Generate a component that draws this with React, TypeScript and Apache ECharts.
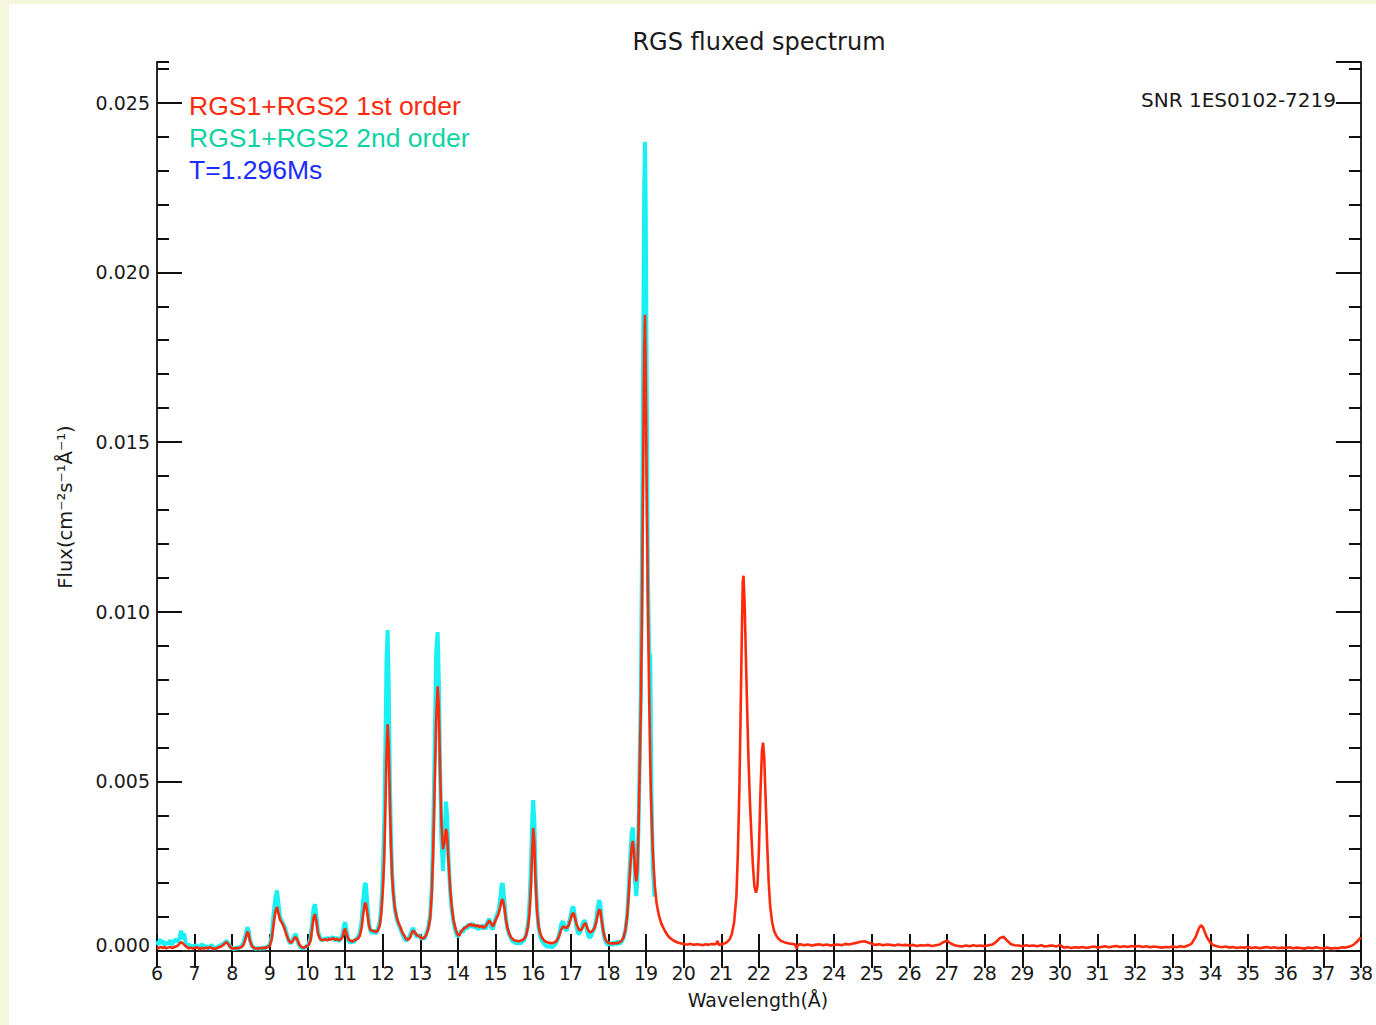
import React, { useEffect, useRef } from "react";
import * as echarts from "echarts";

// Wavelength (Å), flux (cm^-2 s^-1 Å^-1) — RGS1+RGS2 1st order
const firstOrder: number[][] = [
  [6.00, 0.00010], [6.05, 0.00008], [6.10, 0.00012], [6.15, 0.00009], [6.20, 0.00011], [6.25, 0.00008],
  [6.30, 0.00010], [6.35, 0.00012], [6.40, 0.00009], [6.45, 0.00011], [6.50, 0.00013], [6.55, 0.00016],
  [6.60, 0.00022], [6.65, 0.00026], [6.70, 0.00021], [6.75, 0.00015], [6.80, 0.00011], [6.85, 0.00008],
  [6.90, 0.00010], [6.95, 0.00007], [7.00, 0.00009], [7.05, 0.00011], [7.10, 0.00008], [7.15, 0.00006],
  [7.20, 0.00009], [7.25, 0.00007], [7.30, 0.00010], [7.35, 0.00008], [7.40, 0.00011], [7.45, 0.00009],
  [7.50, 0.00007], [7.55, 0.00006], [7.60, 0.00009], [7.65, 0.00011], [7.70, 0.00013], [7.75, 0.00017],
  [7.80, 0.00022], [7.85, 0.00026], [7.90, 0.00019], [7.95, 0.00011], [8.00, 0.00008], [8.05, 0.00007],
  [8.10, 0.00009], [8.15, 0.00008], [8.20, 0.00010], [8.25, 0.00012], [8.30, 0.00018], [8.35, 0.00035],
  [8.40, 0.00057], [8.43, 0.00052], [8.47, 0.00030], [8.52, 0.00015], [8.57, 0.00009], [8.62, 0.00008],
  [8.70, 0.00007], [8.75, 0.00009], [8.80, 0.00008], [8.85, 0.00010], [8.90, 0.00009], [8.95, 0.00012],
  [9.00, 0.00016], [9.05, 0.00035], [9.10, 0.00080], [9.15, 0.00118], [9.19, 0.00130], [9.23, 0.00110],
  [9.27, 0.00092], [9.31, 0.00085], [9.35, 0.00078], [9.40, 0.00062], [9.45, 0.00045], [9.50, 0.00032],
  [9.55, 0.00024], [9.60, 0.00028], [9.65, 0.00038], [9.69, 0.00041], [9.73, 0.00033], [9.78, 0.00020],
  [9.83, 0.00013], [9.88, 0.00010], [9.93, 0.00011], [9.98, 0.00014], [10.03, 0.00018], [10.08, 0.00030],
  [10.12, 0.00062], [10.16, 0.00098], [10.20, 0.00108], [10.24, 0.00085], [10.28, 0.00052], [10.33, 0.00036],
  [10.38, 0.00032], [10.43, 0.00033], [10.48, 0.00035], [10.53, 0.00031], [10.58, 0.00036], [10.63, 0.00034],
  [10.68, 0.00038], [10.73, 0.00033], [10.78, 0.00036], [10.83, 0.00031], [10.88, 0.00034], [10.93, 0.00040],
  [10.97, 0.00058], [11.00, 0.00066], [11.04, 0.00050], [11.09, 0.00034], [11.14, 0.00030], [11.19, 0.00028],
  [11.24, 0.00031], [11.29, 0.00034], [11.34, 0.00036], [11.39, 0.00045], [11.44, 0.00070], [11.48, 0.00108],
  [11.52, 0.00138], [11.55, 0.00142], [11.59, 0.00112], [11.63, 0.00078], [11.67, 0.00062], [11.72, 0.00060],
  [11.77, 0.00058], [11.82, 0.00056], [11.87, 0.00060], [11.92, 0.00075], [11.96, 0.00110], [12.00, 0.00175],
  [12.04, 0.00270], [12.07, 0.00420], [12.10, 0.00580], [12.13, 0.00668], [12.16, 0.00600], [12.19, 0.00440],
  [12.22, 0.00310], [12.25, 0.00220], [12.28, 0.00170], [12.32, 0.00128], [12.37, 0.00100], [12.42, 0.00082],
  [12.47, 0.00070], [12.52, 0.00055], [12.57, 0.00046], [12.62, 0.00036], [12.67, 0.00033], [12.72, 0.00038],
  [12.77, 0.00052], [12.81, 0.00060], [12.86, 0.00054], [12.91, 0.00046], [12.96, 0.00044], [13.01, 0.00040],
  [13.06, 0.00036], [13.11, 0.00040], [13.16, 0.00048], [13.21, 0.00065], [13.26, 0.00095], [13.30, 0.00160],
  [13.34, 0.00290], [13.38, 0.00480], [13.42, 0.00680], [13.46, 0.00780], [13.49, 0.00720], [13.52, 0.00560],
  [13.56, 0.00380], [13.60, 0.00300], [13.64, 0.00320], [13.68, 0.00360], [13.71, 0.00345], [13.75, 0.00260],
  [13.79, 0.00190], [13.83, 0.00135], [13.88, 0.00092], [13.93, 0.00068], [13.98, 0.00050], [14.03, 0.00045],
  [14.08, 0.00056], [14.13, 0.00064], [14.18, 0.00068], [14.23, 0.00072], [14.28, 0.00075], [14.33, 0.00080],
  [14.38, 0.00074], [14.43, 0.00078], [14.48, 0.00072], [14.53, 0.00076], [14.58, 0.00070], [14.63, 0.00074],
  [14.68, 0.00068], [14.73, 0.00072], [14.78, 0.00080], [14.83, 0.00090], [14.88, 0.00082], [14.93, 0.00072],
  [14.98, 0.00085], [15.03, 0.00098], [15.08, 0.00110], [15.12, 0.00128], [15.16, 0.00148], [15.19, 0.00152],
  [15.23, 0.00130], [15.27, 0.00095], [15.31, 0.00070], [15.36, 0.00052], [15.41, 0.00040], [15.46, 0.00034],
  [15.51, 0.00031], [15.56, 0.00030], [15.61, 0.00029], [15.66, 0.00030], [15.71, 0.00032], [15.76, 0.00036],
  [15.81, 0.00046], [15.86, 0.00070], [15.90, 0.00110], [15.94, 0.00190], [15.97, 0.00290], [16.00, 0.00362],
  [16.03, 0.00320], [16.06, 0.00210], [16.10, 0.00120], [16.14, 0.00075], [16.19, 0.00050], [16.24, 0.00038],
  [16.29, 0.00031], [16.34, 0.00027], [16.39, 0.00025], [16.44, 0.00024], [16.49, 0.00023], [16.54, 0.00024],
  [16.59, 0.00027], [16.64, 0.00033], [16.69, 0.00045], [16.74, 0.00062], [16.79, 0.00072], [16.84, 0.00070],
  [16.89, 0.00068], [16.94, 0.00075], [16.99, 0.00092], [17.03, 0.00108], [17.07, 0.00112], [17.11, 0.00098],
  [17.15, 0.00080], [17.20, 0.00066], [17.25, 0.00060], [17.30, 0.00066], [17.35, 0.00078], [17.39, 0.00082],
  [17.43, 0.00070], [17.48, 0.00058], [17.53, 0.00055], [17.58, 0.00060], [17.63, 0.00068], [17.67, 0.00082],
  [17.71, 0.00105], [17.75, 0.00122], [17.78, 0.00120], [17.82, 0.00090], [17.86, 0.00060], [17.90, 0.00040],
  [17.95, 0.00028], [18.00, 0.00024], [18.05, 0.00022], [18.10, 0.00023], [18.15, 0.00022], [18.20, 0.00024],
  [18.25, 0.00023], [18.30, 0.00026], [18.35, 0.00030], [18.40, 0.00040], [18.45, 0.00062], [18.50, 0.00105],
  [18.54, 0.00170], [18.58, 0.00250], [18.62, 0.00310], [18.65, 0.00324], [18.68, 0.00290], [18.71, 0.00230],
  [18.74, 0.00205], [18.77, 0.00240], [18.80, 0.00360], [18.83, 0.00540], [18.86, 0.00720], [18.89, 0.00980],
  [18.92, 0.01400], [18.95, 0.01780], [18.97, 0.01875], [18.99, 0.01700], [19.02, 0.01320], [19.05, 0.01020],
  [19.08, 0.00760], [19.11, 0.00560], [19.14, 0.00420], [19.18, 0.00290], [19.23, 0.00195], [19.28, 0.00140],
  [19.34, 0.00105], [19.40, 0.00082], [19.46, 0.00068], [19.52, 0.00055], [19.58, 0.00045], [19.64, 0.00038],
  [19.70, 0.00033], [19.78, 0.00028], [19.86, 0.00024], [19.94, 0.00022], [20.02, 0.00020], [20.10, 0.00019],
  [20.18, 0.00021], [20.26, 0.00018], [20.34, 0.00020], [20.42, 0.00019], [20.50, 0.00017], [20.58, 0.00020],
  [20.66, 0.00018], [20.74, 0.00021], [20.82, 0.00019], [20.88, 0.00024], [20.90, 0.00030], [20.93, 0.00018],
  [21.00, 0.00020], [21.08, 0.00022], [21.15, 0.00026], [21.22, 0.00034], [21.28, 0.00050], [21.34, 0.00085],
  [21.40, 0.00160], [21.44, 0.00290], [21.48, 0.00480], [21.51, 0.00680], [21.54, 0.00900], [21.57, 0.01090],
  [21.59, 0.01106], [21.62, 0.01020], [21.65, 0.00880], [21.68, 0.00740], [21.72, 0.00570], [21.76, 0.00440],
  [21.80, 0.00340], [21.84, 0.00250], [21.88, 0.00190], [21.92, 0.00172], [21.96, 0.00190], [22.00, 0.00300],
  [22.04, 0.00470], [22.08, 0.00590], [22.11, 0.00614], [22.14, 0.00570], [22.18, 0.00440], [22.22, 0.00310],
  [22.26, 0.00200], [22.30, 0.00130], [22.35, 0.00085], [22.40, 0.00060], [22.46, 0.00045], [22.52, 0.00036],
  [22.58, 0.00030], [22.65, 0.00027], [22.72, 0.00024], [22.80, 0.00022], [22.88, 0.00021], [22.95, 0.00020],
  [23.00, 0.00008], [23.05, 0.00019], [23.1, 0.00020], [23.2, 0.00017], [23.3, 0.00019], [23.4, 0.00016],
  [23.5, 0.00018], [23.6, 0.00020], [23.7, 0.00017], [23.8, 0.00019], [23.9, 0.00016], [24.0, 0.00018],
  [24.1, 0.00019], [24.2, 0.00017], [24.3, 0.00021], [24.4, 0.00019], [24.5, 0.00022], [24.6, 0.00024],
  [24.7, 0.00027], [24.8, 0.00029], [24.9, 0.00025], [25.0, 0.00021], [25.1, 0.00018], [25.2, 0.00020],
  [25.3, 0.00017], [25.4, 0.00019], [25.5, 0.00018], [25.6, 0.00016], [25.7, 0.00019], [25.8, 0.00017],
  [25.9, 0.00018], [26.0, 0.00016], [26.1, 0.00018], [26.2, 0.00015], [26.3, 0.00017], [26.4, 0.00016],
  [26.5, 0.00018], [26.6, 0.00015], [26.7, 0.00017], [26.8, 0.00019], [26.9, 0.00026], [27.0, 0.00030],
  [27.1, 0.00022], [27.2, 0.00017], [27.3, 0.00015], [27.4, 0.00013], [27.5, 0.00016], [27.6, 0.00014],
  [27.7, 0.00017], [27.8, 0.00015], [27.9, 0.00016], [28.0, 0.00014], [28.1, 0.00017], [28.2, 0.00019],
  [28.3, 0.00026], [28.4, 0.00038], [28.5, 0.00042], [28.6, 0.00030], [28.7, 0.00020], [28.8, 0.00017],
  [28.9, 0.00016], [29.0, 0.00014], [29.1, 0.00017], [29.2, 0.00015], [29.3, 0.00016], [29.4, 0.00014],
  [29.5, 0.00017], [29.6, 0.00013], [29.7, 0.00015], [29.8, 0.00016], [29.9, 0.00013], [30.0, 0.00018],
  [30.1, 0.00010], [30.2, 0.00012], [30.3, 0.00009], [30.4, 0.00011], [30.5, 0.00010], [30.6, 0.00012],
  [30.7, 0.00009], [30.8, 0.00011], [30.9, 0.00013], [31.0, 0.00010], [31.1, 0.00012], [31.2, 0.00014],
  [31.3, 0.00011], [31.4, 0.00013], [31.5, 0.00015], [31.6, 0.00012], [31.7, 0.00014], [31.8, 0.00012],
  [31.9, 0.00015], [32.0, 0.00013], [32.1, 0.00015], [32.2, 0.00012], [32.3, 0.00014], [32.4, 0.00011],
  [32.5, 0.00013], [32.6, 0.00012], [32.7, 0.00010], [32.8, 0.00012], [32.9, 0.00011], [33.0, 0.00013],
  [33.1, 0.00011], [33.2, 0.00014], [33.3, 0.00012], [33.4, 0.00016], [33.5, 0.00022], [33.6, 0.00040],
  [33.7, 0.00068], [33.75, 0.00076], [33.8, 0.00070], [33.9, 0.00042], [34.0, 0.00024], [34.1, 0.00016],
  [34.2, 0.00013], [34.3, 0.00011], [34.4, 0.00013], [34.5, 0.00010], [34.6, 0.00012], [34.7, 0.00009],
  [34.8, 0.00011], [34.9, 0.00010], [35.0, 0.00012], [35.1, 0.00009], [35.2, 0.00011], [35.3, 0.00008],
  [35.4, 0.00010], [35.5, 0.00012], [35.6, 0.00009], [35.7, 0.00011], [35.8, 0.00008], [35.9, 0.00010],
  [36.0, 0.00009], [36.1, 0.00011], [36.2, 0.00008], [36.3, 0.00010], [36.4, 0.00009], [36.5, 0.00007],
  [36.6, 0.00010], [36.7, 0.00008], [36.8, 0.00011], [36.9, 0.00009], [37.0, 0.00008], [37.1, 0.00010],
  [37.2, 0.00007], [37.3, 0.00009], [37.4, 0.00008], [37.5, 0.00011], [37.6, 0.00010], [37.7, 0.00013],
  [37.8, 0.00018], [37.9, 0.00028], [38.0, 0.00040],
];

// RGS1+RGS2 2nd order
const secondOrder: number[][] = [
  [6.00, 0.00030], [6.04, 0.00018], [6.08, 0.00035], [6.12, 0.00022], [6.16, 0.00030], [6.20, 0.00016],
  [6.25, 0.00026], [6.30, 0.00020], [6.35, 0.00032], [6.40, 0.00018], [6.45, 0.00028], [6.50, 0.00034],
  [6.55, 0.00026], [6.60, 0.00040], [6.64, 0.00060], [6.68, 0.00035], [6.72, 0.00052], [6.76, 0.00025],
  [6.80, 0.00015], [6.85, 0.00020], [6.90, 0.00010], [6.95, 0.00016], [7.00, 0.00012], [7.05, 0.00018],
  [7.10, 0.00009], [7.15, 0.00014], [7.20, 0.00020], [7.25, 0.00010], [7.30, 0.00016], [7.35, 0.00008],
  [7.40, 0.00012], [7.45, 0.00018], [7.50, 0.00010], [7.55, 0.00007], [7.60, 0.00012], [7.65, 0.00015],
  [7.70, 0.00018], [7.75, 0.00020], [7.80, 0.00025], [7.85, 0.00030], [7.90, 0.00022], [7.95, 0.00012],
  [8.00, 0.00008], [8.05, 0.00005], [8.10, 0.00010], [8.15, 0.00007], [8.20, 0.00012], [8.25, 0.00015],
  [8.30, 0.00025], [8.35, 0.00045], [8.40, 0.00070], [8.43, 0.00062], [8.47, 0.00035], [8.52, 0.00016],
  [8.57, 0.00010], [8.62, 0.00006], [8.70, 0.00009], [8.75, 0.00006], [8.80, 0.00010], [8.85, 0.00007],
  [8.90, 0.00011], [8.95, 0.00014], [9.00, 0.00020], [9.05, 0.00045], [9.10, 0.00110], [9.15, 0.00160],
  [9.19, 0.00178], [9.23, 0.00140], [9.27, 0.00100], [9.31, 0.00090], [9.35, 0.00080], [9.40, 0.00070],
  [9.45, 0.00050], [9.50, 0.00030], [9.55, 0.00022], [9.60, 0.00032], [9.65, 0.00045], [9.69, 0.00050],
  [9.73, 0.00030], [9.78, 0.00016], [9.83, 0.00010], [9.88, 0.00008], [9.93, 0.00010], [9.98, 0.00015],
  [10.03, 0.00020], [10.08, 0.00038], [10.12, 0.00080], [10.16, 0.00125], [10.20, 0.00138], [10.24, 0.00100],
  [10.28, 0.00058], [10.33, 0.00040], [10.38, 0.00030], [10.43, 0.00038], [10.48, 0.00032], [10.53, 0.00040],
  [10.58, 0.00033], [10.63, 0.00038], [10.68, 0.00042], [10.73, 0.00030], [10.78, 0.00040], [10.83, 0.00028],
  [10.88, 0.00036], [10.93, 0.00048], [10.97, 0.00075], [11.00, 0.00085], [11.04, 0.00060], [11.09, 0.00030],
  [11.14, 0.00024], [11.19, 0.00030], [11.24, 0.00026], [11.29, 0.00036], [11.34, 0.00040], [11.39, 0.00055],
  [11.44, 0.00090], [11.48, 0.00150], [11.52, 0.00195], [11.55, 0.00200], [11.59, 0.00140], [11.63, 0.00085],
  [11.67, 0.00060], [11.72, 0.00052], [11.77, 0.00062], [11.82, 0.00050], [11.87, 0.00065], [11.92, 0.00085],
  [11.96, 0.00130], [12.00, 0.00220], [12.04, 0.00380], [12.07, 0.00600], [12.10, 0.00850], [12.13, 0.00946],
  [12.16, 0.00780], [12.19, 0.00500], [12.22, 0.00330], [12.25, 0.00230], [12.28, 0.00175], [12.32, 0.00125],
  [12.37, 0.00095], [12.42, 0.00078], [12.47, 0.00065], [12.52, 0.00050], [12.57, 0.00038], [12.62, 0.00030],
  [12.67, 0.00035], [12.72, 0.00045], [12.77, 0.00060], [12.81, 0.00068], [12.86, 0.00050], [12.91, 0.00042],
  [12.96, 0.00048], [13.01, 0.00036], [13.06, 0.00040], [13.11, 0.00035], [13.16, 0.00052], [13.21, 0.00070],
  [13.26, 0.00105], [13.30, 0.00180], [13.34, 0.00340], [13.38, 0.00600], [13.42, 0.00880], [13.46, 0.00940],
  [13.49, 0.00800], [13.52, 0.00560], [13.56, 0.00330], [13.60, 0.00236], [13.64, 0.00330], [13.68, 0.00440],
  [13.71, 0.00400], [13.75, 0.00270], [13.79, 0.00180], [13.83, 0.00125], [13.88, 0.00085], [13.93, 0.00060],
  [13.98, 0.00042], [14.03, 0.00048], [14.08, 0.00060], [14.13, 0.00055], [14.18, 0.00072], [14.23, 0.00065],
  [14.28, 0.00080], [14.33, 0.00070], [14.38, 0.00082], [14.43, 0.00068], [14.48, 0.00078], [14.53, 0.00062],
  [14.58, 0.00075], [14.63, 0.00066], [14.68, 0.00078], [14.73, 0.00064], [14.78, 0.00085], [14.83, 0.00095],
  [14.88, 0.00070], [14.93, 0.00065], [14.98, 0.00090], [15.03, 0.00105], [15.08, 0.00120], [15.12, 0.00150],
  [15.16, 0.00195], [15.19, 0.00199], [15.23, 0.00150], [15.27, 0.00100], [15.31, 0.00068], [15.36, 0.00048],
  [15.41, 0.00036], [15.46, 0.00028], [15.51, 0.00026], [15.56, 0.00022], [15.61, 0.00025], [15.66, 0.00022],
  [15.71, 0.00028], [15.76, 0.00032], [15.81, 0.00048], [15.86, 0.00080], [15.90, 0.00140], [15.94, 0.00250],
  [15.97, 0.00380], [16.00, 0.00445], [16.03, 0.00380], [16.06, 0.00240], [16.10, 0.00130], [16.14, 0.00070],
  [16.19, 0.00040], [16.24, 0.00028], [16.29, 0.00020], [16.34, 0.00015], [16.39, 0.00012], [16.44, 0.00016],
  [16.49, 0.00010], [16.54, 0.00014], [16.59, 0.00020], [16.64, 0.00030], [16.69, 0.00050], [16.74, 0.00078],
  [16.79, 0.00088], [16.84, 0.00065], [16.89, 0.00060], [16.94, 0.00080], [16.99, 0.00100], [17.03, 0.00125],
  [17.07, 0.00130], [17.11, 0.00100], [17.15, 0.00070], [17.20, 0.00050], [17.25, 0.00055], [17.30, 0.00075],
  [17.35, 0.00090], [17.39, 0.00085], [17.43, 0.00060], [17.48, 0.00040], [17.53, 0.00042], [17.58, 0.00055],
  [17.63, 0.00070], [17.67, 0.00090], [17.71, 0.00125], [17.75, 0.00150], [17.78, 0.00140], [17.82, 0.00095],
  [17.86, 0.00058], [17.90, 0.00035], [17.95, 0.00022], [18.00, 0.00018], [18.05, 0.00025], [18.10, 0.00016],
  [18.15, 0.00028], [18.20, 0.00018], [18.25, 0.00030], [18.30, 0.00020], [18.35, 0.00028], [18.40, 0.00038],
  [18.45, 0.00060], [18.50, 0.00110], [18.54, 0.00190], [18.58, 0.00280], [18.62, 0.00350], [18.65, 0.00364],
  [18.68, 0.00300], [18.71, 0.00200], [18.74, 0.00162], [18.77, 0.00220], [18.80, 0.00380], [18.83, 0.00560],
  [18.86, 0.00760], [18.89, 0.01150], [18.92, 0.01700], [18.95, 0.02250], [18.97, 0.02385], [18.99, 0.02200],
  [19.02, 0.01600], [19.05, 0.01100], [19.08, 0.00880], [19.11, 0.00870], [19.14, 0.00480], [19.18, 0.00250],
  [19.22, 0.00160],
];

const xTicks = { min: 6, max: 38, step: 1 };
const yTicks = { min: 0, max: 0.0262, major: 0.005, minor: 0.001 };

const titleText = "RGS fluxed spectrum";
const targetText = "SNR 1ES0102-7219";
const legendLines = ["RGS1+RGS2 1st order", "RGS1+RGS2 2nd order", "T=1.296Ms"];
const xName = "Wavelength(Å)";
const yName = "Flux(cm⁻²s⁻¹Å⁻¹)";

const RED = "#ff2a0c";
const CYAN = "#18f0f4";
const AXIS = "#2a2a2a";
const FONT = "'DejaVu Sans', sans-serif";

export default function App() {
  const ref = useRef<HTMLDivElement>(null);

  useEffect(() => {
    if (!ref.current) return;
    const chart = echarts.init(ref.current, undefined, { renderer: "svg" });

    const gridL = 157;
    const gridR = 14;
    const gridT = 62;
    const gridB = 74;

    const baseY = {
      type: "value",
      min: yTicks.min,
      max: yTicks.max,
      splitLine: { show: false },
    };

    chart.setOption({
      animation: false,
      backgroundColor: "transparent",
      grid: { left: gridL, right: gridR, top: gridT, bottom: gridB, containLabel: false },
      xAxis: [
        {
          type: "value",
          position: "bottom",
          min: xTicks.min,
          max: xTicks.max,
          interval: xTicks.step,
          axisLine: { show: true, lineStyle: { color: AXIS, width: 2 } },
          axisTick: { show: true, inside: true, length: 17, lineStyle: { color: "#111", width: 2 } },
          axisLabel: { show: true, margin: 12, fontSize: 19, color: "#1a1a1a", fontFamily: FONT, hideOverlap: false },
          splitLine: { show: false },
        },
        {
          type: "value",
          position: "top",
          min: xTicks.min,
          max: xTicks.max,
          interval: xTicks.step,
          axisLine: { show: true, lineStyle: { color: AXIS, width: 2 } },
          axisTick: { show: true, inside: true, length: 17, lineStyle: { color: "#111", width: 2 } },
          axisLabel: { show: false },
          splitLine: { show: false },
        },
      ],
      yAxis: [
        {
          ...baseY,
          position: "left",
          interval: yTicks.major,
          axisLine: { show: true, lineStyle: { color: AXIS, width: 2 } },
          axisTick: { show: true, inside: true, length: 25, lineStyle: { color: "#111", width: 2 } },
          axisLabel: {
            show: true,
            margin: 7,
            fontSize: 19,
            color: "#1a1a1a",
            fontFamily: FONT,
            showMaxLabel: false,
            formatter: (v: number) => (v === 0 ? "{z|" + v.toFixed(3) + "}" : v.toFixed(3)),
            rich: { z: { fontSize: 19, fontFamily: FONT, color: "#1a1a1a", padding: [0, 0, 12, 0] } },
          },
        },
        {
          ...baseY,
          position: "right",
          interval: yTicks.major,
          axisLine: { show: true, lineStyle: { color: AXIS, width: 2 } },
          axisTick: { show: true, inside: true, length: 25, lineStyle: { color: "#111", width: 2 } },
          axisLabel: { show: false },
        },
        {
          ...baseY,
          position: "left",
          offset: 0,
          interval: yTicks.minor,
          axisLine: { show: false },
          axisTick: { show: true, inside: true, length: 12, lineStyle: { color: "#111", width: 2 } },
          axisLabel: { show: false },
        },
        {
          ...baseY,
          position: "right",
          offset: 0,
          interval: yTicks.minor,
          axisLine: { show: false },
          axisTick: { show: true, inside: true, length: 12, lineStyle: { color: "#111", width: 2 } },
          axisLabel: { show: false },
        },
      ],
      series: [
        {
          name: legendLines[1],
          type: "line",
          xAxisIndex: 0,
          yAxisIndex: 0,
          data: secondOrder,
          showSymbol: false,
          symbol: "none",
          lineStyle: { color: CYAN, width: 4 },
          z: 2,
        },
        {
          name: legendLines[0],
          type: "line",
          xAxisIndex: 0,
          yAxisIndex: 0,
          data: firstOrder,
          showSymbol: false,
          symbol: "none",
          lineStyle: { color: RED, width: 2.6 },
          z: 3,
        },
      ],
      graphic: [
        {
          type: "text",
          x: 759,
          y: 42,
          style: { text: titleText, fill: "#1a1a1a", font: `24px ${FONT}`, textAlign: "center", textVerticalAlign: "middle" },
        },
        {
          type: "text",
          x: 1336,
          y: 100,
          style: { text: targetText, fill: "#1a1a1a", font: `20px ${FONT}`, textAlign: "right", textVerticalAlign: "middle" },
        },
        {
          type: "text",
          x: 189,
          y: 106,
          style: { text: legendLines[0], fill: "#ff2a0c", font: `26.5px 'Liberation Sans', Arial, sans-serif`, textAlign: "left", textVerticalAlign: "middle" },
        },
        {
          type: "text",
          x: 189,
          y: 138,
          style: { text: legendLines[1], fill: "#0dd3a3", font: `26.5px 'Liberation Sans', Arial, sans-serif`, textAlign: "left", textVerticalAlign: "middle" },
        },
        {
          type: "text",
          x: 189,
          y: 170,
          style: { text: legendLines[2], fill: "#1b2dff", font: `26.5px 'Liberation Sans', Arial, sans-serif`, textAlign: "left", textVerticalAlign: "middle" },
        },
        {
          type: "text",
          x: 758,
          y: 1000,
          style: { text: xName, fill: "#1a1a1a", font: `19px ${FONT}`, textAlign: "center", textVerticalAlign: "middle" },
        },
        {
          type: "text",
          x: 65,
          y: 507,
          rotation: Math.PI / 2,
          style: { text: yName, fill: "#1a1a1a", font: `19.5px ${FONT}`, textAlign: "center", textVerticalAlign: "middle" },
        },
      ],
    });

    return () => chart.dispose();
  }, []);

  return (
    <div style={{ position: "absolute", left: 0, top: 0, width: 1376, height: 1025, background: "#f5f7dd", overflow: "hidden" }}>
      <div style={{ position: "absolute", left: 9, top: 4, width: 1367, height: 1021, background: "#ffffff" }} />
      <div ref={ref} style={{ position: "absolute", left: 0, top: 0, width: 1376, height: 1025 }} />
    </div>
  );
}
